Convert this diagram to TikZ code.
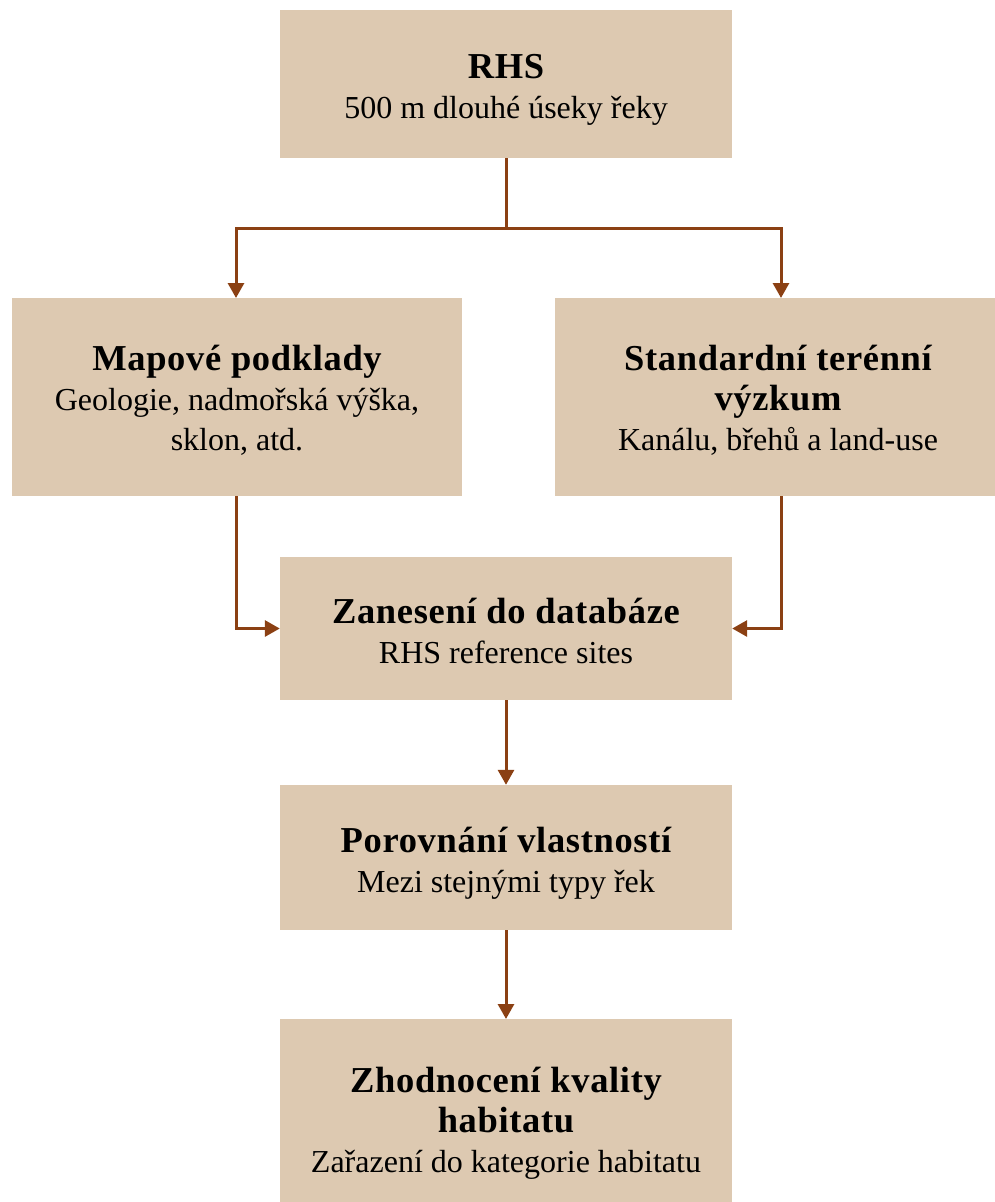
\documentclass[tikz,border=0pt]{standalone}
\usepackage{fontspec}
\setmainfont{Liberation Serif}
\usetikzlibrary{arrows.meta}
\definecolor{boxfill}{RGB}{221,201,177}
\definecolor{linebrown}{RGB}{139,64,19}
\newcommand{\hd}[1]{{\fontsize{36.5}{40}\selectfont\bfseries\addfontfeature{LetterSpace=1.8}#1}}
\begin{document}
\begin{tikzpicture}[x=1pt,y=-1pt,
  box/.style={fill=boxfill, draw=none, inner sep=0pt},
  txt/.style={align=center, inner sep=0pt, font=\fontsize{32}{40}\selectfont},
  conn/.style={draw=linebrown, line width=3pt,
    -{Triangle[width=16pt,length=15pt]}}]
\useasboundingbox (0,0) rectangle (995,1202);
\node[box, minimum width=452pt, minimum height=148pt] (rhs) at (506,84) {};
\node[txt] (rhs-t) at ([yshift=-6pt]rhs.center) {\hd{RHS}\\500 m dlouhé úseky řeky};
\node[box, minimum width=450pt, minimum height=198pt] (map) at (237,397) {};
\node[txt] (map-t) at ([yshift=-3pt]map.center) {\hd{Mapové podklady}\\Geologie, nadmořská výška,\\sklon, atd.};
\node[box, minimum width=440pt, minimum height=198pt] (std) at (775,397) {};
\node[txt] (std-t) at ([xshift=3pt,yshift=-3pt]std.center) {\hd{Standardní terénní}\\\hd{výzkum}\\Kanálu, břehů a land-use};
\node[box, minimum width=452pt, minimum height=143pt] (zan) at (506,628.5) {};
\node[txt] (zan-t) at ([yshift=-2pt]zan.center) {\hd{Zanesení do databáze}\\RHS reference sites};
\node[box, minimum width=452pt, minimum height=145pt] (por) at (506,857.5) {};
\node[txt] (por-t) at ([yshift=-6pt]por.center) {\hd{Porovnání vlastností}\\Mezi stejnými typy řek};
\node[box, minimum width=452pt, minimum height=202pt] (zho) at (506,1120) {};
\node[txt] (zho-t) at ([yshift=-3pt]zho.center) {\hd{Zhodnocení kvality}\\\hd{habitatu}\\Zařazení do kategorie habitatu};
\coordinate (split) at (506,228);
\draw[draw=linebrown, line width=3pt] (rhs.south) -- (split);
\draw[conn] (split) -| (236,298);
\draw[conn] (split) -| (781,298);
\draw[conn] (236,496) |- (zan.west);
\draw[conn] (781,496) |- (zan.east);
\draw[conn] (zan.south) -- (por.north);
\draw[conn] (por.south) -- (506,1019);
\end{tikzpicture}
\end{document}
